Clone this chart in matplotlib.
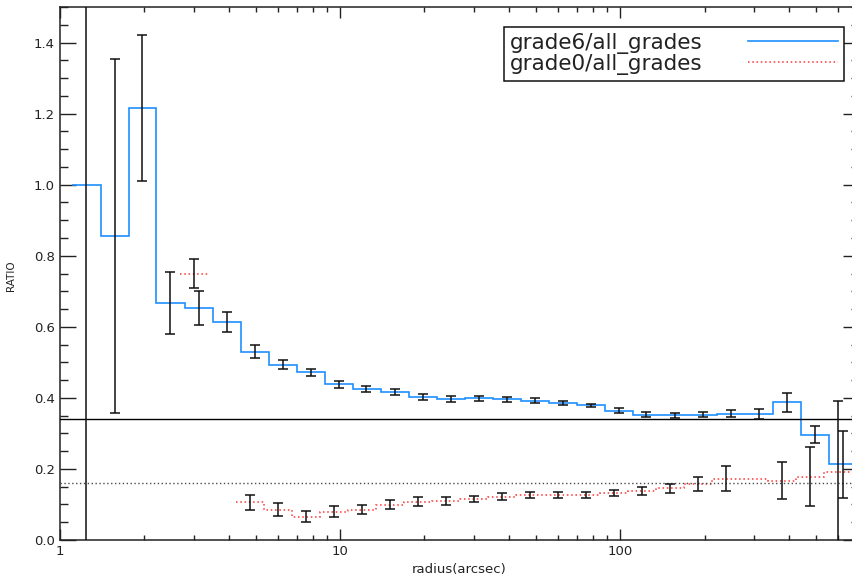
import numpy as np
import matplotlib
matplotlib.use("Agg")
import matplotlib.pyplot as plt
from matplotlib.lines import Line2D
from matplotlib.ticker import FixedLocator, LogLocator, MultipleLocator, NullFormatter, FixedFormatter

# ---------------- data ----------------
radius = [1.24, 1.57, 1.97, 2.48, 3.13, 3.94, 4.95, 6.24, 7.85, 9.89,
          12.4, 15.7, 19.7, 24.8, 31.3, 39.4, 49.5, 62.4, 78.5, 98.9,
          124, 157, 197, 248, 313, 394, 495, 624]

grade6_ratio = [1.000, 0.856, 1.215, 0.667, 0.653, 0.614, 0.530, 0.493, 0.472, 0.4385,
                0.4255, 0.416, 0.403, 0.396, 0.399, 0.396, 0.392, 0.386, 0.379, 0.364,
                0.3525, 0.3506, 0.3525, 0.355, 0.3534, 0.388, 0.2965, 0.2126]
grade6_err = [2.0, 0.499, 0.206, 0.088, 0.047, 0.028, 0.019, 0.013, 0.010, 0.0095,
              0.0085, 0.0085, 0.008, 0.0085, 0.0075, 0.007, 0.007, 0.006, 0.005, 0.007,
              0.007, 0.0065, 0.007, 0.010, 0.014, 0.027, 0.0235, 0.094]

nan = float("nan")
grade0_ratio = [nan, nan, nan, nan, 0.750, nan, 0.1057, 0.085, 0.066, 0.079,
                0.0855, 0.0995, 0.1075, 0.109, 0.1155, 0.1215, 0.126, 0.126, 0.1265, 0.1325,
                0.137, 0.145, 0.157, 0.173, 0.172, 0.1674, 0.1786, 0.190]
grade0_err = [nan, nan, nan, nan, 0.040, nan, 0.0215, 0.018, 0.015, 0.0155,
              0.0135, 0.0125, 0.0125, 0.011, 0.0097, 0.0095, 0.0085, 0.0085, 0.0085, 0.0095,
              0.011, 0.014, 0.019, 0.036, nan, 0.053, 0.083, 0.200]

mean_grade6 = 0.341
mean_grade0 = 0.160

series_labels = ["grade6/all_grades", "grade0/all_grades"]
x_ticks = [1, 10, 100]
x_ticklabels = ["1", "10", "100"]
y_ticks = [0.0, 0.2, 0.4, 0.6, 0.8, 1.0, 1.2, 1.4]
y_ticklabels = ["0.0", "0.2", "0.4", "0.6", "0.8", "1.0", "1.2", "1.4"]
x_label = "radius(arcsec)"
y_label = "RATIO"

# ---------------- style ----------------
BLUE = "#1e8fff"
RED = "#ff3535"
GREY = "#4a4a4a"
ERR = "#111111"
grade0_shift = 10 ** (-0.017)   # small horizontal offset used for the grade0 points


def log_edges(centers):
    lc = np.log10(np.asarray(centers, dtype=float))
    mid = (lc[:-1] + lc[1:]) / 2
    e = np.concatenate([[2 * lc[0] - mid[0]], mid, [2 * lc[-1] - mid[-1]]])
    return 10 ** e


plt.rcParams["font.family"] = ["DejaVu Sans"]

fig = plt.figure(figsize=(8.53, 5.78), dpi=100)
W, H = 853, 578
ax_l, ax_r, ax_t, ax_b = 60, 859, 7, 540
ax = fig.add_axes([ax_l / W, (H - ax_b) / H, (ax_r - ax_l) / W, (ax_b - ax_t) / H])

r6 = np.asarray(radius, dtype=float)
r0 = r6 * grade0_shift
v6 = np.asarray(grade6_ratio)
e6 = np.asarray(grade6_err)
v0 = np.asarray(grade0_ratio)
e0 = np.asarray(grade0_err)

# step histograms
ax.stairs(v6, log_edges(r6), baseline=None, fill=False, color=BLUE, lw=1.2, zorder=2)
ax.stairs(v0, log_edges(r0), baseline=None, fill=False, color=RED, lw=1.1,
          linestyle=(0, (1.0, 1.8)), zorder=2)

# reference lines
ax.axhline(mean_grade6, color="black", lw=1.0, zorder=3)
ax.axhline(mean_grade0, color=GREY, lw=1.0, linestyle=(0, (1.0, 1.8)), zorder=3)

# error bars
ok6 = np.isfinite(v6) & np.isfinite(e6)
ax.errorbar(r6[ok6], v6[ok6], yerr=e6[ok6], fmt="none", ecolor=ERR,
            elinewidth=1.1, capsize=3.35, capthick=1.1, zorder=4)
ok0 = np.isfinite(v0) & np.isfinite(e0)
ax.errorbar(r0[ok0], v0[ok0], yerr=e0[ok0], fmt="none", ecolor=ERR,
            elinewidth=1.1, capsize=3.35, capthick=1.1, zorder=4)

# axes
ax.set_xscale("log")
ax.set_xlim(1, 712)
ax.set_ylim(0, 1.5)

ax.xaxis.set_major_locator(FixedLocator(x_ticks))
ax.xaxis.set_major_formatter(FixedFormatter(x_ticklabels))
ax.xaxis.set_minor_locator(LogLocator(base=10, subs=np.arange(2, 10)))
ax.xaxis.set_minor_formatter(NullFormatter())
ax.yaxis.set_major_locator(FixedLocator(y_ticks))
ax.yaxis.set_major_formatter(FixedFormatter(y_ticklabels))
ax.yaxis.set_minor_locator(MultipleLocator(0.05))

ax.tick_params(which="both", direction="in", top=True, right=True, colors="#222222",
               width=1.0, labelsize=9.5, labelcolor="#222222")
ax.tick_params(axis="x", which="major", length=7.7, pad=3.5)
ax.tick_params(axis="x", which="minor", length=3.8)
ax.tick_params(axis="y", which="major", length=11.5, pad=3.6)
ax.tick_params(axis="y", which="minor", length=5.8)
for s in ax.spines.values():
    s.set_linewidth(1.1)
    s.set_color("#222222")

ax.set_xlabel(x_label, fontsize=9.5, color="#222222", labelpad=4)
ax.set_ylabel(y_label, fontsize=7.5, color="#222222")
ax.yaxis.set_label_coords((16 - ax_l) / (ax_r - ax_l), 0.495)

handles = [Line2D([], [], color=BLUE, lw=1.2),
           Line2D([], [], color=RED, lw=1.1, linestyle=(0, (1.0, 1.8)))]
leg = ax.legend(handles, series_labels, markerfirst=False, loc="upper right",
                bbox_to_anchor=((844 - ax_l) / (ax_r - ax_l), (ax_b - 27) / (ax_b - ax_t)),
                borderaxespad=0, fontsize=15.5, handlelength=4.2, handletextpad=2.1,
                labelspacing=0.0, borderpad=0.28, fancybox=False, framealpha=1,
                edgecolor="#111111")
leg.get_frame().set_linewidth(1.1)
for t in leg.get_texts():
    t.set_color("#222222")

fig.savefig("out.png", dpi=100)
